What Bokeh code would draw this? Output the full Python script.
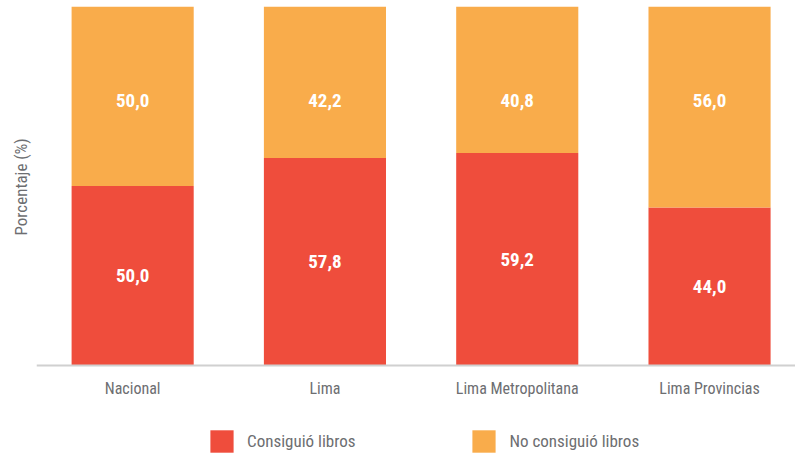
from bokeh.plotting import figure
from bokeh.models import ColumnDataSource, Legend, LegendItem, Range1d, FixedTicker, Title
from bokeh.core.properties import value
from bokeh.embed import file_html
from bokeh.resources import INLINE

categories = ["Nacional", "Lima", "Lima Metropolitana", "Lima Provincias"]
consiguio = [50.0, 57.8, 59.2, 44.0]
no_consiguio = [50.0, 42.2, 40.8, 56.0]
series_names = ["Consiguió libros", "No consiguió libros"]
y_label = "Porcentaje (%)"

FONT = "'Roboto Condensed', Roboto"
RED = "#EF4D3C"
ORANGE = "#F9AC4B"
GRAY = "#6D6E71"

def fmt(v):
    return f"{v:.1f}".replace(".", ",")

xs = list(range(len(categories)))
totals = [a + b for a, b in zip(consiguio, no_consiguio)]
src = ColumnDataSource(dict(
    x=xs,
    c=consiguio,
    total=totals,
    mid_c=[v / 2 for v in consiguio],
    lab_c=[fmt(v) for v in consiguio],
    lab_n=[fmt(v) for v in no_consiguio],
))

# frame spans the full height; the category axis sits at y = 0,
# leaving room below it (inside the frame) for the legend
y_bottom = -90 / 359 * 100
p = figure(width=795, height=455, x_range=Range1d(-0.5, 3.447), y_range=Range1d(y_bottom, 100),
           output_backend="svg", toolbar_location=None,
           min_border_left=36, min_border_right=0, min_border_top=6, min_border_bottom=0)
p.outline_line_color = None
p.xgrid.visible = False
p.ygrid.visible = False
p.yaxis.visible = False
p.background_fill_color = "white"
p.border_fill_color = "white"

r_c = p.vbar(x="x", width=0.635, bottom=0, top="c", source=src, fill_color=RED, line_color=None)
r_n = p.vbar(x="x", width=0.635, bottom="c", top="total", source=src, fill_color=ORANGE, line_color=None)

p.text(x="x", y="mid_c", text="lab_c", source=src, text_align="center", text_baseline="middle",
       text_color="white", text_font=value(FONT), text_font_style="bold", text_font_size="19px")
p.text(x="x", y="total", text="lab_n", source=src, text_align="center", text_baseline="middle",
       text_color="white", text_font=value(FONT), text_font_style="bold", text_font_size="19px",
       y_offset=94)

xa = p.xaxis[0]
xa.fixed_location = 0
xa.ticker = FixedTicker(ticks=xs)
xa.major_label_overrides = {i: c for i, c in enumerate(categories)}
xa.major_tick_line_color = None
xa.minor_tick_line_color = None
xa.major_tick_out = 0
xa.major_tick_in = 0
xa.axis_line_color = "#D0D0D0"
xa.axis_line_width = 2
xa.major_label_text_color = GRAY
xa.major_label_text_font = FONT
xa.major_label_text_font_size = "16px"
xa.major_label_standoff = 13

t = Title(text=y_label, align="left", text_font=FONT, text_font_size="17px",
          text_color=GRAY, text_font_style="normal", standoff=12, offset=220)
p.add_layout(t, "left")

legend = Legend(items=[LegendItem(label=series_names[0], renderers=[r_c]),
                       LegendItem(label=series_names[1], renderers=[r_n])],
                location=(171, 0), orientation="horizontal",
                glyph_width=29, glyph_height=28, label_standoff=11, spacing=114,
                padding=0, margin=0, border_line_alpha=0, background_fill_alpha=0,
                label_text_font=FONT, label_text_font_size="17px", label_text_color=GRAY)
p.add_layout(legend, "center")

open("out.html", "w").write(file_html(p, INLINE))
